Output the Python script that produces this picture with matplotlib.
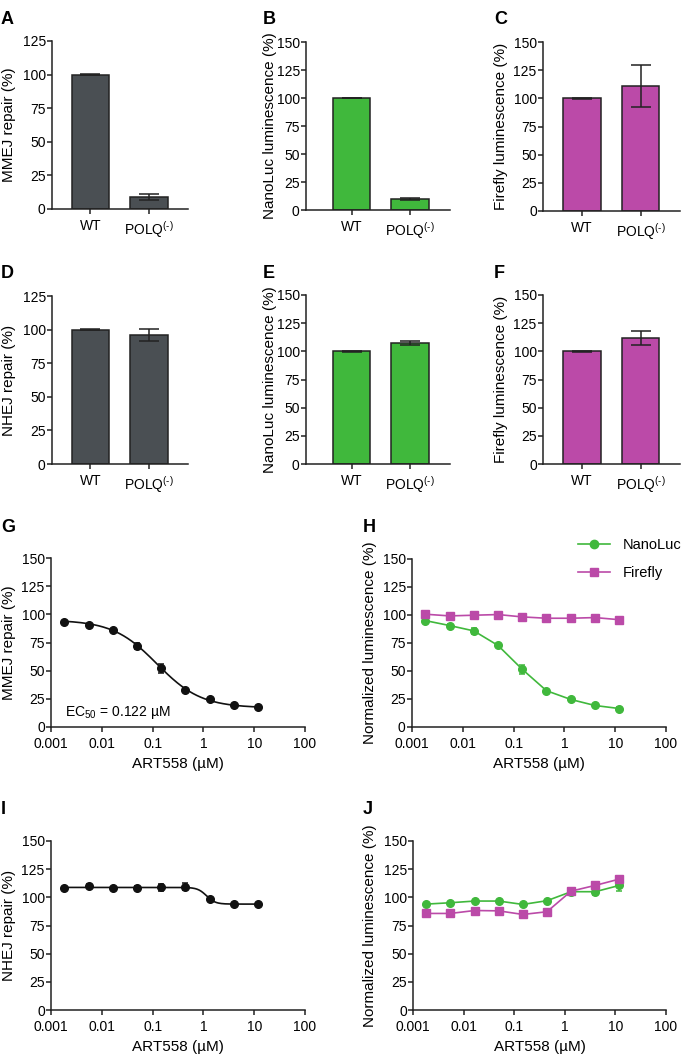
import numpy as np
import matplotlib.pyplot as plt
from matplotlib.lines import Line2D

plt.rcParams['font.family'] = ['Liberation Sans', 'DejaVu Sans']
plt.rcParams['mathtext.fontset'] = 'custom'
plt.rcParams['mathtext.rm'] = 'Liberation Sans'

# bar panels (WT, POLQ-)
groups = ['WT', 'POLQ$^{(\u2010)}$']
mmej_bar = [100, 9]
mmej_bar_err = [0.3, 2]
nluc_mmej = [100, 9.5]
nluc_mmej_err = [0.2, 1]
ffly_mmej = [100, 111]
ffly_mmej_err = [0.3, 18.5]
nhej_bar = [100, 96]
nhej_bar_err = [0.3, 4.5]
nluc_nhej = [100, 107.5]
nluc_nhej_err = [0.2, 1.5]
ffly_nhej = [100, 112]
ffly_nhej_err = [0.3, 6]

# dose response (ART558, uM)
dose = [0.00183, 0.00549, 0.0165, 0.0494, 0.148, 0.444, 1.333, 4.0, 12.0]
mmej_g = [93.6, 90.6, 85.8, 71.8, 52.2, 33.1, 24.9, 19.5, 17.4]
mmej_g_err = [0.8, 1, 1.5, 3, 4, 1, 0.8, 0.8, 0.8]
nluc_h = [95, 90.6, 85.8, 72.8, 51.5, 32.4, 24.6, 19.2, 16.5]
nluc_h_err = [1, 1, 3, 1, 4, 1, 1, 1, 1]
ffly_h = [100.7, 99.2, 99.8, 100.4, 98.3, 97.1, 97.1, 97.7, 95.8]
ffly_h_err = [1, 1, 1, 1, 1, 1, 1, 1, 1]
nhej_i = [108.5, 110, 108.5, 108.5, 108.8, 109.4, 98.4, 94.2, 94.2]
nhej_i_err = [0.5, 2, 0.5, 2, 3, 3, 1, 0.5, 0.5]
nluc_j = [94, 95.2, 96.7, 96.7, 93.7, 97, 105, 105, 110.6]
nluc_j_err = [0.8, 0.8, 0.8, 0.8, 0.8, 0.8, 1, 2.5, 5]
ffly_j = [85.7, 85.7, 88.3, 88, 84.8, 87.2, 105.5, 110.6, 116.2]
ffly_j_err = [0.8, 0.8, 0.8, 0.8, 0.8, 0.8, 1, 1, 2]

# fitted curve parameters (4PL)
fit_g = dict(top=95.0, bottom=17.0, ec50=0.122, hill=1.0)
fit_i = dict(top=108.8, bottom=94.0, ec50=1.15, hill=5.0)

GRAY = '#4a4f53'
GREEN = '#40b83c'
MAGENTA = '#bb4aa8'
EDGE = '#222222'

W, H = 681, 1064
fig = plt.figure(figsize=(W / 100, H / 100), dpi=100)


def px_axes(l, r, t, b):
    return fig.add_axes([l / W, 1 - b / H, (r - l) / W, (b - t) / H])


def style(ax):
    for s in ['top', 'right']:
        ax.spines[s].set_visible(False)
    for s in ['left', 'bottom']:
        ax.spines[s].set_linewidth(1.1)
        ax.spines[s].set_color('#222222')
    ax.tick_params(direction='out', length=3.5, width=1.1, labelsize=10,
                   color='#222222', pad=1)


def bar_panel(l, r, t, b, vals, errs, color, ylabel, ymax, lab_x, xlim):
    ax = px_axes(l, r, t, b)
    ax.bar([0, 1], vals, width=0.64, color=color, edgecolor=EDGE, linewidth=1.1,
           yerr=errs, capsize=7, error_kw=dict(elinewidth=1.1, capthick=1.1, ecolor=EDGE))
    ax.set_xlim(*xlim)
    ax.set_ylim(0, ymax)
    ax.set_yticks(np.arange(0, ymax + 1, 25))
    ax.set_xticks([0, 1])
    ax.set_xticklabels(groups)
    style(ax)
    ax.tick_params(axis='x', pad=4)
    ax.set_ylabel(ylabel, fontsize=11)
    ax.yaxis.set_label_coords(lab_x / W, 1 - (t + b) / 2 / H, transform=fig.transFigure)
    return ax


def logistic(x, top, bottom, ec50, hill):
    return bottom + (top - bottom) / (1 + (x / ec50) ** hill)


def dose_axes(l, r, t, b, ylabel, lab_x):
    ax = px_axes(l, r, t, b)
    ax.set_xscale('log')
    ax.set_xlim(0.001, 100)
    ax.set_ylim(0, 150)
    ax.set_yticks(np.arange(0, 151, 25))
    ax.set_xticks([0.001, 0.01, 0.1, 1, 10, 100])
    ax.set_xticklabels(['0.001', '0.01', '0.1', '1', '10', '100'])
    ax.xaxis.set_minor_locator(plt.NullLocator())
    style(ax)
    ax.tick_params(axis='x', pad=3.5)
    ax.set_ylabel(ylabel, fontsize=11)
    ax.yaxis.set_label_coords(lab_x / W, 1 - (t + b) / 2 / H, transform=fig.transFigure)
    ax.set_xlabel('ART558 (µM)', fontsize=11)
    ax.xaxis.set_label_coords((l + r) / 2 / W, 1 - (b + 30) / H, transform=fig.transFigure)
    return ax


# row 1
bar_panel(52, 188, 41, 209, mmej_bar, mmej_bar_err, GRAY, 'MMEJ repair (%)', 125, 16, (-0.658, 1.667))
bar_panel(306, 450, 42, 210, nluc_mmej, nluc_mmej_err, GREEN, 'NanoLuc luminescence (%)', 150, 277, (-0.79, 1.69))
bar_panel(543, 680, 42, 211, ffly_mmej, ffly_mmej_err, MAGENTA, 'Firefly luminescence (%)', 150, 508, (-0.67, 1.675))
# row 2
bar_panel(52, 188, 296, 464, nhej_bar, nhej_bar_err, GRAY, 'NHEJ repair (%)', 125, 16, (-0.658, 1.667))
bar_panel(306, 450, 295, 464, nluc_nhej, nluc_nhej_err, GREEN, 'NanoLuc luminescence (%)', 150, 277, (-0.79, 1.69))
bar_panel(543, 680, 295, 464, ffly_nhej, ffly_nhej_err, MAGENTA, 'Firefly luminescence (%)', 150, 508, (-0.67, 1.675))

ms = 5.5
ebkw = dict(capsize=2.5, elinewidth=1.1, capthick=1.1)

# G
ax = dose_axes(51, 305, 558, 727, 'MMEJ repair (%)', 16)
xs = np.logspace(np.log10(dose[0]), np.log10(dose[-1]), 200)
ax.plot(xs, logistic(xs, **fit_g), color='#111111', lw=1.2)
ax.errorbar(dose, mmej_g, yerr=mmej_g_err, fmt='o', color='#111111', ms=ms, **ebkw)
ax.text(0.0019, 13, 'EC$_{50}$ = 0.122 µM', fontsize=10, va='center')

# H
ax = dose_axes(412, 666, 559, 727, 'Normalized luminescence (%)', 377)
ax.errorbar(dose, nluc_h, yerr=nluc_h_err, fmt='-o', color=GREEN, ms=ms, lw=1.2, **ebkw)
ax.errorbar(dose, ffly_h, yerr=ffly_h_err, fmt='-s', color=MAGENTA, ms=ms, lw=1.2, **ebkw)
handles = [Line2D([], [], color=GREEN, marker='o', ms=ms + 0.5, lw=1.2),
           Line2D([], [], color=MAGENTA, marker='s', ms=ms + 0.5, lw=1.2)]
ax.legend(handles, ['NanoLuc', 'Firefly'], loc='upper left',
          bbox_to_anchor=(572 / W, 1 - 532 / H), bbox_transform=fig.transFigure,
          frameon=False, fontsize=10.5, handlelength=2.2, handletextpad=0.9,
          labelspacing=1.0, borderaxespad=0)

# I
ax = dose_axes(51, 305, 841, 1010, 'NHEJ repair (%)', 16)
ax.plot(xs, logistic(xs, **fit_i), color='#111111', lw=1.2)
ax.errorbar(dose, nhej_i, yerr=nhej_i_err, fmt='o', color='#111111', ms=ms, **ebkw)

# J
ax = dose_axes(413, 666, 841, 1010, 'Normalized luminescence (%)', 377)
ax.errorbar(dose, nluc_j, yerr=nluc_j_err, fmt='-o', color=GREEN, ms=ms, lw=1.2, **ebkw)
ax.errorbar(dose, ffly_j, yerr=ffly_j_err, fmt='-s', color=MAGENTA, ms=ms, lw=1.2, **ebkw)

# panel letters
letters = [('A', 1, 20), ('B', 263, 20), ('C', 494, 20),
           ('D', 1, 273), ('E', 263, 273), ('F', 494, 273),
           ('G', 1, 528), ('H', 363, 528), ('I', 1, 810), ('J', 363, 810)]
for s, x, y in letters:
    fig.text(x / W, 1 - y / H, s, fontsize=13, fontweight='bold', va='center', ha='left')

fig.savefig('out.png', dpi=100)
